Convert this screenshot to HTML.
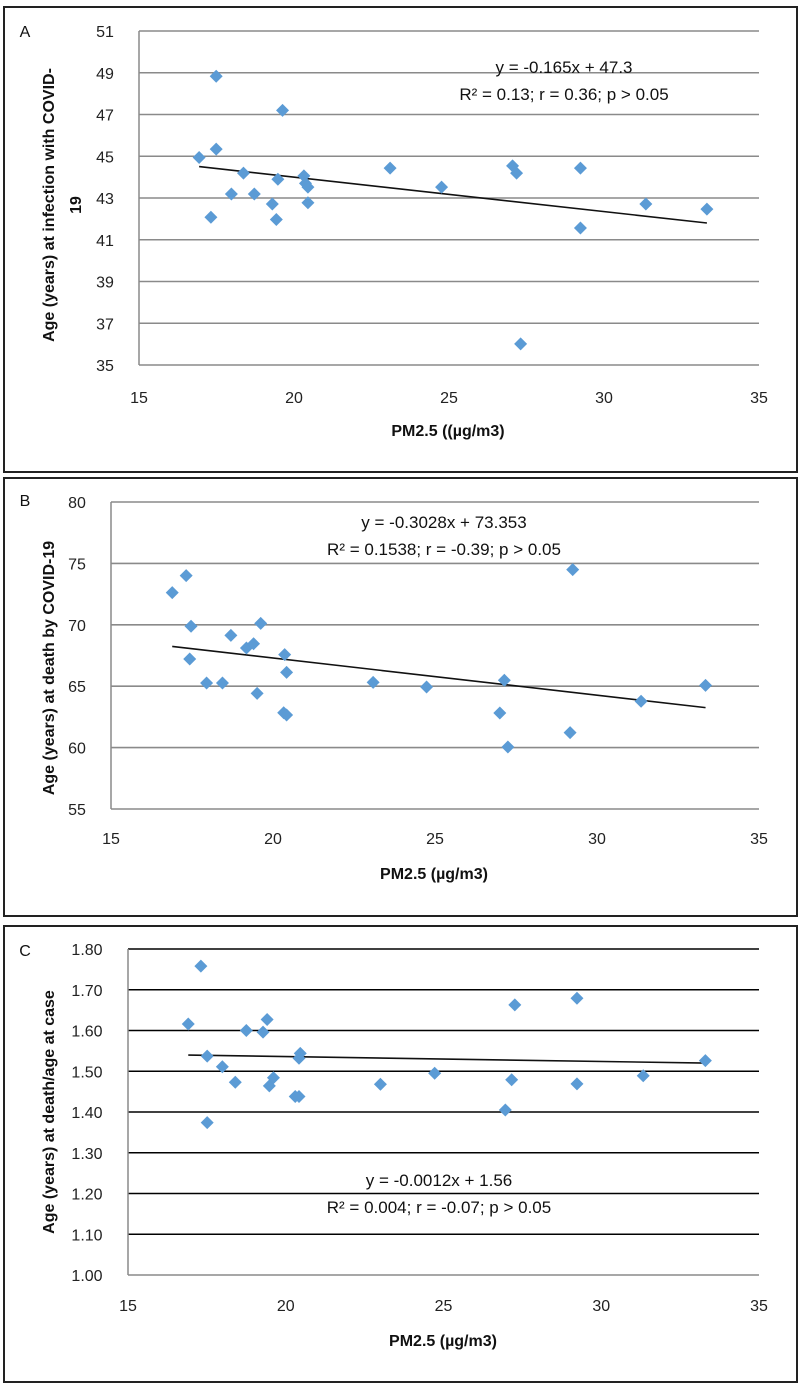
<!DOCTYPE html>
<html><head><meta charset="utf-8">
<style>
html,body{margin:0;padding:0;background:#fff;}
svg{display:block;font-family:"Liberation Sans",sans-serif;}
</style></head>
<body>
<svg id="chart" width="800" height="1387" viewBox="0 0 800 1387"></svg>
<script>
// Panel A data
const aX = [16.94,17.49,17.49,17.32,17.98,18.37,18.72,19.30,19.43,19.48,19.63,20.32,20.37,20.45,20.45,23.10,24.76,27.05,27.18,27.31,29.24,29.24,31.35,33.32];
const aY = [44.94,48.83,45.34,42.08,43.19,44.19,43.19,42.71,41.97,43.90,47.20,44.06,43.70,43.52,42.77,44.43,43.52,44.54,44.19,36.01,44.43,41.56,42.71,42.47];
const aTicksY = [35,37,39,41,43,45,47,49,51];
// Panel B data
const bX = [16.89,17.32,17.47,17.43,17.95,18.44,18.70,19.18,19.40,19.51,19.62,20.36,20.42,20.33,20.42,23.09,24.74,27.00,27.14,27.25,29.17,29.25,31.36,33.35];
const bY = [72.62,74.00,69.88,67.22,65.26,65.26,69.14,68.11,68.46,64.42,70.12,67.57,66.13,62.84,62.65,65.31,64.93,62.82,65.48,60.05,61.22,74.49,63.77,65.07];
const bTicksY = [55,60,65,70,75,80];
// Panel C data
const cX = [16.91,17.31,17.51,17.51,17.99,18.40,18.75,19.28,19.41,19.48,19.61,20.30,20.42,20.42,20.46,23.00,24.72,26.96,27.16,27.26,29.23,29.23,31.33,33.30];
const cY = [1.616,1.758,1.537,1.374,1.511,1.473,1.600,1.596,1.627,1.464,1.484,1.438,1.438,1.532,1.544,1.468,1.495,1.405,1.479,1.663,1.679,1.469,1.489,1.526];
const cTicksY = [1.00,1.10,1.20,1.30,1.40,1.50,1.60,1.70,1.80];
const ticksX = [15,20,25,30,35];
const slopes = [-0.165,-0.3028,-0.0012];
const intercepts = [47.3,73.353,1.56];

const NS='http://www.w3.org/2000/svg';
const svg=document.getElementById('chart');
function mk(tag,attrs,parent,text){const e=document.createElementNS(NS,tag);for(const k in attrs)e.setAttribute(k,attrs[k]);if(text!==undefined)e.textContent=text;(parent||svg).appendChild(e);return e;}

const panels=[
 {id:'a',letter:'A',box:[4,7,793,465],xl:139,xr:759,yt:31,yb:365,ymin:35,ymax:51,ticks:aTicksY,dec:0,tickX:105,grid:'#8a8a8a',
  xs:aX,ys:aY,eq:['y = -0.165x + 47.3','R² = 0.13; r = 0.36; p > 0.05'],eqX:564,eqY:[67,94],
  ytitle:['Age (years) at infection with COVID-','19'],ytX:[48,75],ytY:205,xtitle:'PM2.5 ((µg/m3)',xtX:448,xtY:430,xlabY:397,letterY:31},
 {id:'b',letter:'B',box:[4,478,793,438],xl:111,xr:759,yt:502,yb:809,ymin:55,ymax:80,ticks:bTicksY,dec:0,tickX:77,grid:'#8a8a8a',
  xs:bX,ys:bY,eq:['y = -0.3028x + 73.353','R² = 0.1538; r = -0.39; p > 0.05'],eqX:444,eqY:[522,549],
  ytitle:['Age (years) at death by COVID-19'],ytX:[48],ytY:668,xtitle:'PM2.5 (µg/m3)',xtX:434,xtY:873,xlabY:838,letterY:500},
 {id:'c',letter:'C',box:[4,926,793,456],xl:128,xr:759,yt:949,yb:1275,ymin:1.0,ymax:1.8,ticks:cTicksY,dec:2,tickX:87,grid:'#000',
  xs:cX,ys:cY,eq:['y = -0.0012x + 1.56','R² = 0.004; r = -0.07; p > 0.05'],eqX:439,eqY:[1180,1207],
  ytitle:['Age (years) at death/age at case'],ytX:[48],ytY:1112,xtitle:'PM2.5 (µg/m3)',xtX:443,xtY:1340,xlabY:1305,letterY:950}
];

panels.forEach((p,pi)=>{
  const g=mk('g',{});
  
  
  const sx=v=>p.xl+(v-15)/20*(p.xr-p.xl);
  const sy=v=>p.yb-(v-p.ymin)/(p.ymax-p.ymin)*(p.yb-p.yt);
  const box=mk('rect',{x:p.box[0],y:p.box[1],width:p.box[2],height:p.box[3],fill:'none',stroke:'#222','stroke-width':2},g);
  
  
  const lt=mk('text',{x:25,y:p.letterY+6,'font-size':16,'text-anchor':'middle',fill:'#111'},g,p.letter);
  
  
  p.ticks.forEach((t,i)=>{
    const y=sy(t);
    const isAxis=i===0;
    const gl=mk('line',{x1:p.xl,x2:p.xr,y1:y,y2:y,stroke:isAxis?'#8a8a8a':p.grid,'stroke-width':isAxis?1.5:1.6},g);
    
    
    const tl=mk('text',{x:p.tickX,y:y+6,'font-size':16,'text-anchor':'middle',fill:'#222'},g,t.toFixed(p.dec));
    
    
  });
  const ya=mk('line',{x1:p.xl,x2:p.xl,y1:p.yt,y2:p.yb,stroke:'#8a8a8a','stroke-width':1.5},g);
  
  
  ticksX.forEach(t=>{
    const xl=mk('text',{x:sx(t),y:p.xlabY+6,'font-size':16,'text-anchor':'middle',fill:'#222'},g,String(t));
    
    
  });
  const x0=Math.min(...p.xs), x1=Math.max(...p.xs);
  const tr=mk('line',{x1:sx(x0),y1:sy(slopes[pi]*x0+intercepts[pi]),x2:sx(x1),y2:sy(slopes[pi]*x1+intercepts[pi]),stroke:'#111','stroke-width':1.6},g);
  
  
  p.xs.forEach((xv,i)=>{
    const cx=sx(xv), cy=sy(p.ys[i]), r=6.5;
    const d=mk('polygon',{points:`${cx},${cy-r} ${cx+r},${cy} ${cx},${cy+r} ${cx-r},${cy}`,fill:'#5b9bd5'},g);
    
    
  });
  p.eq.forEach((t,i)=>{
    const e=mk('text',{x:p.eqX,y:p.eqY[i]+6,'font-size':17,'text-anchor':'middle',fill:'#111'},g,t);
    
    
  });
  p.ytitle.forEach((t,i)=>{
    const e=mk('text',{x:0,y:0,'font-size':16,'font-weight':'bold','text-anchor':'middle',fill:'#111',transform:`translate(${p.ytX[i]+6},${p.ytY}) rotate(-90)`},g,t);
    
    
  });
  const xt=mk('text',{x:p.xtX,y:p.xtY+6,'font-size':16,'font-weight':'bold','text-anchor':'middle',fill:'#111'},g,p.xtitle);
  
  
});
</script>
</body></html>
